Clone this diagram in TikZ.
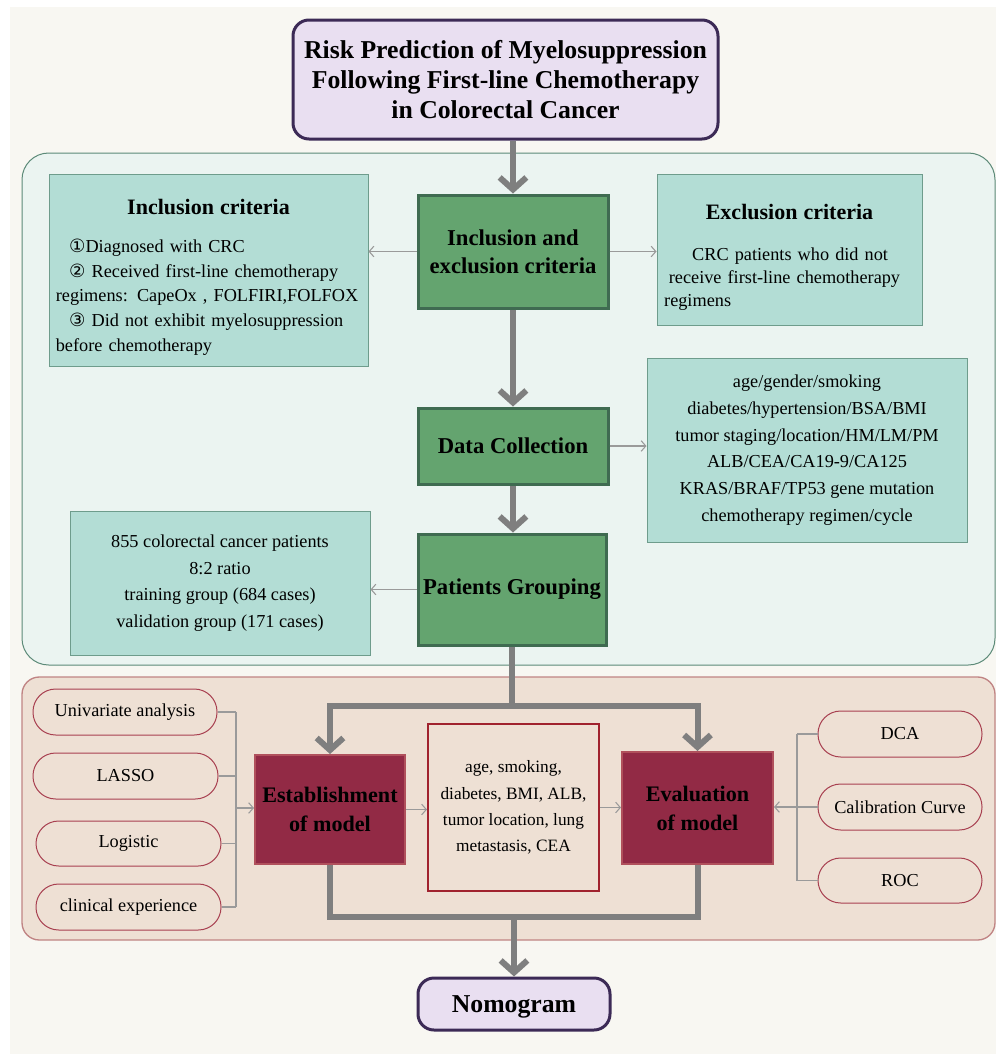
\documentclass[tikz,border=0pt]{standalone}
\usepackage{fontspec}
\setmainfont{Liberation Serif}
\newfontfamily\symfont{DejaVu Sans}
\usetikzlibrary{arrows.meta,calc}
\definecolor{pagebg}{HTML}{F8F7F2}
\definecolor{upfill}{HTML}{EBF4F1}
\definecolor{updraw}{HTML}{5C8A78}
\definecolor{tealfill}{HTML}{B3DDD5}
\definecolor{tealdraw}{HTML}{6E9C8C}
\definecolor{greenfill}{HTML}{64A46F}
\definecolor{greendraw}{HTML}{3F6B51}
\definecolor{lowfill}{HTML}{EEE0D4}
\definecolor{lowdraw}{HTML}{C08484}
\definecolor{maroonfill}{HTML}{922A45}
\definecolor{maroondraw}{HTML}{B0505C}
\definecolor{midraw}{HTML}{A0222E}
\definecolor{ovaldraw}{HTML}{A84050}
\definecolor{purpfill}{HTML}{E9DFF1}
\definecolor{purpdraw}{HTML}{3C2A56}
\definecolor{thickgrey}{HTML}{7F7F7F}
\definecolor{thingrey}{HTML}{9A9A9A}
\tikzset{
  sz/.style 2 args={minimum width=#1*0.75pt, minimum height=#2*0.75pt},
  body/.style={font=\fontsize{13.7}{20}\selectfont},
  titlebox/.style={draw=purpdraw, fill=purpfill, line width=2.25pt, rounded corners=12pt, inner sep=0pt, align=center, font=\fontsize{19.3}{22.5}\selectfont\bfseries},
  greenbox/.style={draw=greendraw, fill=greenfill, line width=2.25pt, inner sep=0pt, align=center, font=\fontsize{17}{21}\selectfont\bfseries},
  tealbox/.style={draw=tealdraw, fill=tealfill, line width=0.75pt, inner sep=0pt, body},
  maroonbox/.style={draw=maroondraw, fill=maroonfill, line width=1.5pt, inner sep=0pt, align=center, font=\fontsize{16.6}{21.75}\selectfont\bfseries},
  midbox/.style={draw=midraw, fill=lowfill, line width=1.5pt, inner sep=0pt, align=center, font=\fontsize{13}{19.75}\selectfont},
  oval/.style={draw=ovaldraw, fill=lowfill, line width=0.75pt, rounded corners=17pt, inner sep=0pt, align=center, body},
  thickline/.style={draw=thickgrey, line width=4.5pt},
  thickarr/.style={thickline, -{Straight Barb[length=9pt,width=20pt]}},
  thinline/.style={draw=thingrey, line width=0.8pt},
  thinarr/.style={thinline, -{Straight Barb[length=3.5pt,width=8pt]}},
}
\begin{document}
\begin{tikzpicture}[x=0.75pt,y=-0.75pt]
\useasboundingbox (0,0) rectangle (996,1054);
\fill[white] (0,0) rectangle (996,1054);
\fill[pagebg] (10,7) rectangle (996,1054);
% regions
\draw[fill=upfill, draw=updraw, line width=0.75pt, rounded corners=20pt] (22,153) rectangle (995,665);
\draw[fill=lowfill, draw=lowdraw, line width=1pt, rounded corners=13pt] (22,677) rectangle (995,940);

% title
\node[titlebox, sz={425}{119}] (title) at (505.5,79.5) {Risk Prediction of Myelosuppression\\Following First-line Chemotherapy\\in Colorectal Cancer};

% upper part
\node[greenbox, sz={190}{113}] (iec) at (513,251.5) {Inclusion and\\exclusion criteria};
\node[tealbox, sz={319}{192}] (incl) at (208.5,270) {};
\node[text width=229pt, align=left, anchor=north, inner sep=0pt, font=\fontsize{13.7}{18.5}\selectfont] (incltext) at (208.5,199)
  {{\centering\fontsize{16.5}{19.5}\selectfont\bfseries Inclusion criteria\par}\vspace{10pt}
   \hspace*{10pt}{\symfont ①}Diagnosed with CRC\\
   \hspace*{10pt}{\symfont ②} Received first-line chemotherapy\\
   regimens: CapeOx , FOLFIRI,FOLFOX\\
   \hspace*{10pt}{\symfont ③} Did not exhibit myelosuppression\\
   before chemotherapy};
\node[tealbox, sz={265}{151}] (excl) at (789.5,249.5) {};
\node[text width=188pt, align=left, anchor=north, inner sep=0pt, font=\fontsize{13.7}{17.5}\selectfont] (excltext) at (789.5,204)
  {{\centering\fontsize{16.5}{19.5}\selectfont\bfseries Exclusion criteria\par}\vspace{13pt}
   \hspace*{21pt}CRC patients who did not\\
   \hspace*{3.5pt}receive first-line chemotherapy\\
   regimens};

\node[greenbox, sz={190}{76}] (dc) at (513,446) {Data Collection};
\node[tealbox, sz={320}{184}, align=center] (data) at (807,450)
  {age/gender/smoking\\diabetes/hypertension/BSA/BMI\\tumor staging/location/HM/LM/PM\\ALB/CEA/CA19-9/CA125\\KRAS/BRAF/TP53 gene mutation\\chemotherapy regimen/cycle};

\node[greenbox, sz={188}{111}] (pg) at (512,589.5) {Patients Grouping};
\node[tealbox, sz={300}{144}, align=center] (grp) at (220,583)
  {855 colorectal cancer patients\\8:2 ratio\\training group (684 cases)\\validation group (171 cases)};

% lower part
\node[maroonbox, sz={150}{109}] (est) at (330,809.5) {Establishment\\of model};
\node[midbox, sz={171}{167}] (vars) at (513.5,807.5) {age, smoking,\\diabetes, BMI, ALB,\\tumor location, lung\\metastasis, CEA};
\node[maroonbox, sz={151}{112}] (eva) at (697.5,808) {Evaluation\\of model};

\node[oval, sz={184}{46}] (uni) at (125,712) {Univariate analysis};
\node[oval, sz={185}{46}] (lasso) at (125.5,776) {LASSO};
\node[oval, sz={185}{45}] (logi) at (128.5,843.5) {Logistic};
\node[oval, sz={185}{46}] (clin) at (128.5,907) {clinical experience};

\node[oval, sz={164}{46}] (dca) at (900,734) {DCA};
\node[oval, sz={164}{46}] (cal) at (900,807) {Calibration Curve};
\node[oval, sz={164}{45}] (roc) at (900,880.5) {ROC};

\node[titlebox, sz={192}{52}, text depth=0pt] (nomo) at (514,1004) {Nomogram};

% thick connectors
\draw[thickarr] (iec.north |- title.south) -- (iec.north);
\draw[thickarr] (iec.south) -- (dc.north);
\draw[thickarr] (dc.south) -- (dc.south |- pg.north);
\coordinate (split) at (512,706);
\draw[thickline] (pg.south) -- (split);
\draw[thickarr] (split) -| (est.north);
\draw[thickarr] (split) -| (eva.north);
\coordinate (join) at (514,917);
\draw[thickline, line join=miter] (est.south) |- (join) -| (eva.south);
\draw[thickarr] (join) -- (nomo.north);

% thin connectors
\draw[thinarr] (iec.west) -- (iec.west -| incl.east);
\draw[thinarr] (iec.east) -- (iec.east -| excl.west);
\draw[thinarr] (dc.east) -- (dc.east -| data.west);
\draw[thinarr] (pg.west) -- (pg.west -| grp.east);
\draw[thinarr] (est.east) -- (est.east -| vars.west);
\draw[thinarr] (vars.east) -- (vars.east -| eva.west);

\coordinate (lbus) at (236,808);
\draw[thinline] (uni.east) -- (uni.east -| lbus);
\draw[thinline] (lasso.east) -- (lasso.east -| lbus);
\draw[thinline] (logi.east) -- (logi.east -| lbus);
\draw[thinline] (clin.east) -- (clin.east -| lbus);
\draw[thinline] (uni.east -| lbus) -- (clin.east -| lbus);
\draw[thinarr] (lbus) -- (lbus -| est.west);

\coordinate (rbus) at (797,807);
\draw[thinline] (dca.west) -- (dca.west -| rbus);
\draw[thinline] (cal.west) -- (cal.west -| rbus);
\draw[thinline] (roc.west) -- (roc.west -| rbus);
\draw[thinline] (dca.west -| rbus) -- (roc.west -| rbus);
\draw[thinarr] (rbus) -- (rbus -| eva.east);
\end{tikzpicture}
\end{document}
